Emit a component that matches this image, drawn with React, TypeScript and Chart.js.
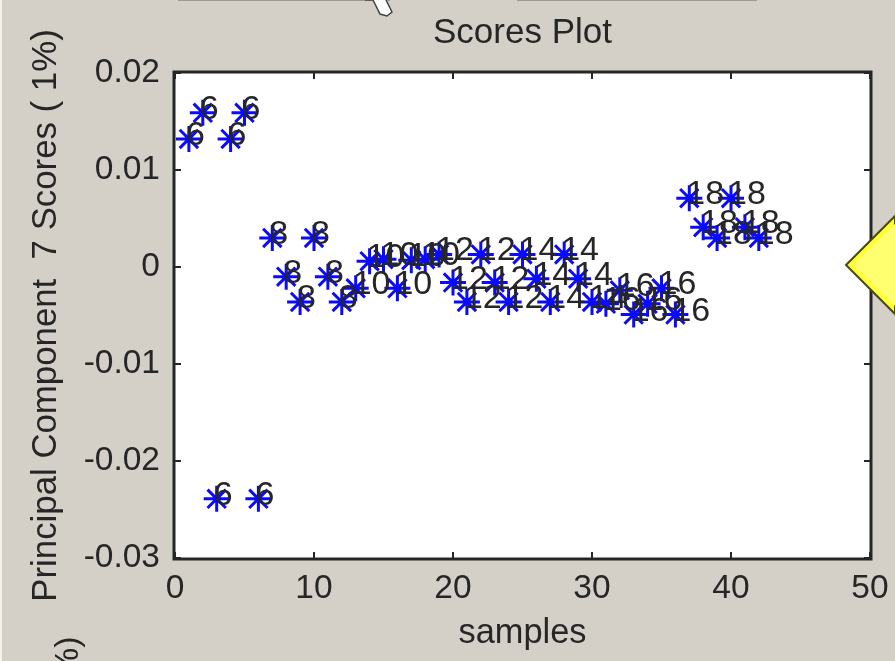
import React, { useEffect, useRef } from "react";
import { Chart, registerables } from "chart.js";

Chart.register(...registerables);

const samples = [1,2,3,4,5,6,7,8,9,10,11,12,13,14,15,16,17,18,19,20,21,22,23,24,25,26,27,28,29,30,31,32,33,34,35,36,37,38,39,40,41,42];
const scores = [0.0132,0.0159,-0.0239,0.0132,0.0159,-0.0239,0.003,-0.001,-0.0036,0.003,-0.001,-0.0036,-0.0022,0.0006,0.0008,-0.0022,0.0007,0.0008,0.0013,-0.0016,-0.0036,0.0013,-0.0016,-0.0036,0.0013,-0.0012,-0.0036,0.0013,-0.0012,-0.0036,-0.0038,-0.0024,-0.0049,-0.0038,-0.0022,-0.0049,0.0071,0.0041,0.003,0.0071,0.0041,0.003];
const classLabels = ["6","6","6","6","6","6","8","8","8","8","8","8","10","10","10","10","10","10","12","12","12","12","12","12","14","14","14","14","14","14","16","16","16","16","16","16","18","18","18","18","18","18"];
const xTicks = [0,10,20,30,40,50];
const yTicks = [0.02,0.01,0,-0.01,-0.02,-0.03];
const yTickText = ["0.02","0.01","0","-0.01","-0.02","-0.03"];

const FONT = "'Liberation Sans', Arial, sans-serif";
const INK = "#262626";
const BG = "#d4d0c8";

const decor = {
  id: "decor",
  beforeDraw(chart: any) {
    const { ctx, width, height } = chart;
    ctx.save();
    ctx.fillStyle = BG;
    ctx.fillRect(0, 0, width, height);
    ctx.fillStyle = "#f4f3f0";
    ctx.fillRect(0, 0, 2, height);
    ctx.fillStyle = "#9a9a96";
    ctx.fillRect(178, 0, 212, 1);
    ctx.fillRect(517, 0, 240, 1);
    const a = chart.chartArea;
    ctx.fillStyle = "#fff";
    ctx.fillRect(a.left, a.top, a.right - a.left, a.bottom - a.top);
    ctx.restore();
  },
  afterDatasetsDraw(chart: any) {
    const { ctx, chartArea: a, scales } = chart;
    ctx.save();
    // class labels beside each point
    ctx.font = `34px ${FONT}`;
    ctx.fillStyle = INK;
    ctx.textAlign = "left";
    ctx.textBaseline = "alphabetic";
    classLabels.forEach((t, i) => {
      ctx.fillText(t, scales.x.getPixelForValue(samples[i]) - 3, scales.y.getPixelForValue(scores[i]) + 6);
    });
    // frame and inward ticks
    ctx.strokeStyle = "#262626";
    ctx.lineWidth = 3;
    ctx.strokeRect(a.left - 1, a.top - 1, a.right - a.left + 2, a.bottom - a.top + 2);
    ctx.lineWidth = 2;
    ctx.beginPath();
    xTicks.forEach((v) => {
      const x = scales.x.getPixelForValue(v);
      ctx.moveTo(x, a.top); ctx.lineTo(x, a.top + 6);
      ctx.moveTo(x, a.bottom); ctx.lineTo(x, a.bottom - 6);
    });
    yTicks.forEach((v) => {
      const y = scales.y.getPixelForValue(v);
      ctx.moveTo(a.left, y); ctx.lineTo(a.left + 6, y);
      ctx.moveTo(a.right, y); ctx.lineTo(a.right - 6, y);
    });
    ctx.stroke();
    ctx.restore();
  },
  afterDraw(chart: any) {
    const { ctx } = chart;
    ctx.save();
    // yellow arrow at the right edge of the screenshot
    ctx.beginPath();
    ctx.moveTo(846, 265); ctx.lineTo(895, 216); ctx.lineTo(895, 314); ctx.closePath();
    ctx.fillStyle = "#ffff33";
    ctx.fill();
    ctx.strokeStyle = "#4a4a10";
    ctx.lineWidth = 2;
    ctx.stroke();
    ctx.beginPath();
    ctx.moveTo(853, 265); ctx.lineTo(895, 224); ctx.lineTo(895, 306); ctx.closePath();
    ctx.fillStyle = "#ffff70";
    ctx.fill();
    // clipped text of the next plot's axis
    ctx.translate(78, 678);
    ctx.rotate(-Math.PI / 2);
    ctx.font = `34px ${FONT}`;
    ctx.fillStyle = INK;
    ctx.fillText("%)", 0, 0);
    ctx.restore();
    ctx.save();
    // mouse cursor cut by the top edge
    ctx.beginPath();
    ctx.moveTo(365, 0); ctx.lineTo(373, 0); ctx.lineTo(380, 14); ctx.lineTo(387, 16);
    ctx.lineTo(392, 12); ctx.lineTo(386, 0);
    ctx.fillStyle = "#fff";
    ctx.fill();
    ctx.strokeStyle = "#444";
    ctx.lineWidth = 1.5;
    ctx.stroke();
    ctx.restore();
  },
};

export default function App() {
  const ref = useRef<HTMLCanvasElement>(null);
  useEffect(() => {
    document.body.style.margin = "0";
    const chart = new Chart(ref.current!, {
      type: "scatter",
      data: {
        datasets: [{
          data: samples.map((s, i) => ({ x: s, y: scores[i] })),
          pointStyle: "star",
          pointRadius: 13,
          pointBorderWidth: 3,
          pointBorderColor: "#0a0aff",
          pointBackgroundColor: "#0a0aff",
          showLine: false,
        }],
      },
      options: {
        animation: false,
        responsive: false,
        layout: { padding: { top: 0, right: 25, bottom: 0, left: 0 } },
        plugins: {
          legend: { display: false },
          tooltip: { enabled: false },
          title: {
            display: true,
            fullSize: false,
            text: "Scores Plot",
            color: INK,
            font: { family: FONT, size: 35, weight: "normal", lineHeight: 1.2 },
            padding: { top: 12, bottom: 19 },
          },
        },
        scales: {
          x: {
            type: "linear",
            min: 0,
            max: 50,
            afterFit: (s: any) => { s.height = 103; },
            afterBuildTicks: (s: any) => { s.ticks = xTicks.map((v) => ({ value: v })); },
            grid: { display: false },
            border: { display: false },
            ticks: { color: INK, font: { family: FONT, size: 33.5 }, maxRotation: 0, padding: 3 },
            title: {
              display: true,
              text: "samples",
              color: INK,
              font: { family: FONT, size: 34.4, weight: "normal", lineHeight: 1.2 },
              padding: { top: 0, bottom: 7 },
            },
          },
          y: {
            type: "linear",
            min: -0.03,
            max: 0.02,
            afterFit: (s: any) => { s.width = 175; },
            afterBuildTicks: (s: any) => { s.ticks = yTicks.map((v) => ({ value: v })); },
            grid: { display: false },
            border: { display: false },
            ticks: {
              color: INK,
              font: { family: FONT, size: 33.5 },
              padding: 7,
              callback: (v: any) => yTickText[yTicks.indexOf(v)] ?? "",
            },
            title: {
              display: true,
              text: "Principal Component  7 Scores ( 1%)",
              color: INK,
              font: { family: FONT, size: 34.8, weight: "normal", lineHeight: 1.2 },
              padding: { top: 26, bottom: 0 },
            },
          },
        },
      },
      plugins: [decor],
    } as any);
    return () => chart.destroy();
  }, []);
  return (
    <canvas
      ref={ref}
      width={895}
      height={661}
      style={{ display: "block", width: 895, height: 661, filter: "blur(0.6px)" }}
    />
  );
}
